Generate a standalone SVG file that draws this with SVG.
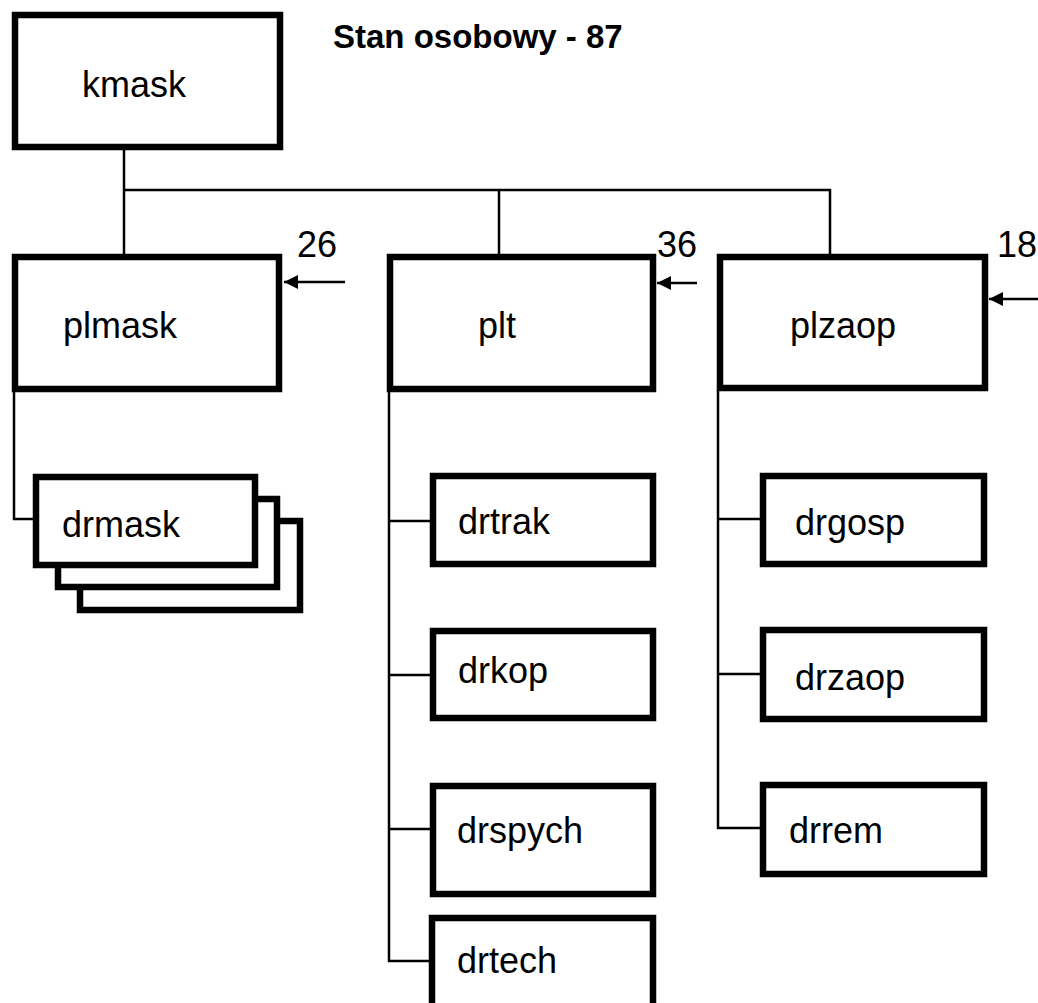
<svg xmlns="http://www.w3.org/2000/svg" width="1038" height="1003" viewBox="0 0 1038 1003">
<style>
.box{fill:#fff;stroke:#000;stroke-width:6.5}
.lbl{font-family:"Liberation Sans",Arial,sans-serif;font-size:36px;fill:#000}
.num{font-family:"Liberation Sans",Arial,sans-serif;font-size:36px;fill:#000}
.title{font-family:"Liberation Sans",Arial,sans-serif;font-size:33px;font-weight:bold;fill:#000}
.conn{fill:none;stroke:#000;stroke-width:2.5}
</style>
<defs>
<marker id="ah" markerUnits="userSpaceOnUse" markerWidth="16" markerHeight="16" viewBox="0 0 16 16" refX="15" refY="8" orient="auto">
<path d="M15 8 L1 1 L1 15 Z" fill="#000"/>
</marker>
</defs>
<rect width="1038" height="1003" fill="#fff"/>
<text class="title" x="333" y="48">Stan osobowy - 87</text>
<g id="connectors">
<path class="conn" d="M124 150 V257"/>
<path class="conn" d="M124 190 H830 V257"/>
<path class="conn" d="M499 190 V257"/>
<path class="conn" d="M14 392 V519 H36"/>
<path class="conn" d="M389 392 V961 H432"/>
<path class="conn" d="M389 521 H433"/>
<path class="conn" d="M389 675 H433"/>
<path class="conn" d="M389 829 H433"/>
<path class="conn" d="M718 390 V828 H763"/>
<path class="conn" d="M718 519 H763"/>
<path class="conn" d="M718 674 H763"/>
<path class="conn" d="M345 282 H284" marker-end="url(#ah)"/>
<path class="conn" d="M697 283 H657" marker-end="url(#ah)"/>
<path class="conn" d="M1038 299 H989" marker-end="url(#ah)"/>
</g>
<g id="kmask"><rect class="box" x="15" y="15" width="265" height="132"/><text class="lbl" x="82" y="97">kmask</text></g>
<g id="plmask"><rect class="box" x="15" y="257" width="264" height="132"/><text class="lbl" x="63" y="338">plmask</text><text class="num" x="297" y="257">26</text></g>
<g id="plt"><rect class="box" x="390" y="257" width="263" height="132"/><text class="lbl" x="478" y="338">plt</text><text class="num" x="657" y="257">36</text></g>
<g id="plzaop"><rect class="box" x="720" y="257" width="265" height="131"/><text class="lbl" x="790" y="338">plzaop</text><text class="num" x="997" y="257">18</text></g>
<g id="drmask">
<rect class="box" x="80" y="521" width="220" height="89"/>
<rect class="box" x="58" y="499" width="219" height="88"/>
<rect class="box" x="36" y="477" width="219" height="88"/>
<text class="lbl" x="62" y="537">drmask</text>
</g>
<g id="drtrak"><rect class="box" x="433" y="476" width="220" height="88"/><text class="lbl" x="458" y="534">drtrak</text></g>
<g id="drkop"><rect class="box" x="433" y="631" width="220" height="87"/><text class="lbl" x="458" y="683">drkop</text></g>
<g id="drspych"><rect class="box" x="433" y="786" width="220" height="108"/><text class="lbl" x="457" y="843">drspych</text></g>
<g id="drtech"><rect class="box" x="432" y="918" width="221" height="100"/><text class="lbl" x="457" y="973">drtech</text></g>
<g id="drgosp"><rect class="box" x="763" y="476" width="221" height="88"/><text class="lbl" x="795" y="535">drgosp</text></g>
<g id="drzaop"><rect class="box" x="763" y="630" width="221" height="89"/><text class="lbl" x="795" y="690">drzaop</text></g>
<g id="drrem"><rect class="box" x="763" y="785" width="221" height="89"/><text class="lbl" x="789" y="843">drrem</text></g>
</svg>
